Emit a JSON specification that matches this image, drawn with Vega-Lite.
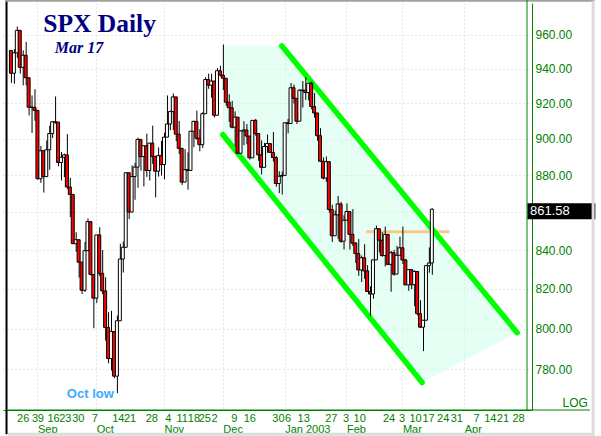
{
"$schema": "https://vega.github.io/schema/vega-lite/v6.json",
"width": 529, "height": 407,
"autosize": {"type": "none"},
"padding": {"left": 3, "top": 3, "right": 69, "bottom": 26},
"background": "white",
"config": {"view": {"stroke": null}},
"datasets": {
"candles": [
{"i":-4,"o":950.70,"h":950.70,"l":931.86,"c":937.43},
{"i":-3,"o":937.43,"h":951.59,"l":931.32,"c":949.36},
{"i":-2,"o":949.36,"h":965.00,"l":946.43,"c":962.70},
{"i":-1,"o":962.70,"h":962.70,"l":937.17,"c":940.86},
{"i":0,"o":940.86,"h":950.80,"l":930.42,"c":947.95},
{"i":1,"o":947.95,"h":955.82,"l":930.36,"c":934.82},
{"i":2,"o":934.82,"h":934.82,"l":913.21,"c":917.87},
{"i":3,"o":917.87,"h":924.59,"l":903.33,"c":917.80},
{"i":4,"o":917.80,"h":928.15,"l":910.17,"c":916.07},
{"i":5,"o":916.07,"h":916.07,"l":877.51,"c":878.02},
{"i":6,"o":878.02,"h":896.10,"l":875.73,"c":893.40},
{"i":7,"o":893.40,"h":893.40,"l":870.50,"c":879.15},
{"i":8,"o":879.15,"h":899.07,"l":879.15,"c":893.92},
{"i":9,"o":893.92,"h":907.34,"l":882.92,"c":902.96},
{"i":10,"o":902.96,"h":909.89,"l":900.50,"c":909.58},
{"i":11,"o":909.58,"h":924.02,"l":908.47,"c":909.45},
{"i":12,"o":909.45,"h":909.45,"l":884.84,"c":886.91},
{"i":13,"o":886.91,"h":892.75,"l":877.05,"c":889.81},
{"i":14,"o":889.81,"h":891.84,"l":878.91,"c":891.10},
{"i":15,"o":891.10,"h":902.68,"l":872.38,"c":873.52},
{"i":16,"o":873.52,"h":878.45,"l":857.39,"c":869.46},
{"i":17,"o":869.46,"h":869.46,"l":843.09,"c":843.32},
{"i":18,"o":843.32,"h":849.32,"l":839.09,"c":845.39},
{"i":19,"o":845.39,"h":845.39,"l":825.76,"c":833.70},
{"i":20,"o":833.70,"h":833.70,"l":817.38,"c":819.29},
{"i":21,"o":819.29,"h":844.22,"l":818.46,"c":839.66},
{"i":22,"o":839.66,"h":856.60,"l":839.66,"c":854.95},
{"i":23,"o":854.95,"h":854.95,"l":826.84,"c":827.37},
{"i":24,"o":827.37,"h":827.37,"l":800.20,"c":815.28},
{"i":25,"o":815.28,"h":847.93,"l":812.82,"c":847.91},
{"i":26,"o":847.91,"h":851.93,"l":826.50,"c":827.91},
{"i":27,"o":827.91,"h":840.02,"l":817.25,"c":818.95},
{"i":28,"o":818.95,"h":825.90,"l":794.10,"c":800.58},
{"i":29,"o":800.58,"h":808.21,"l":782.96,"c":785.28},
{"i":30,"o":785.28,"h":808.86,"l":779.50,"c":798.55},
{"i":31,"o":798.55,"h":798.55,"l":775.80,"c":776.76},
{"i":32,"o":776.76,"h":806.51,"l":768.63,"c":803.92},
{"i":33,"o":803.92,"h":843.27,"l":803.92,"c":835.32},
{"i":34,"o":835.32,"h":844.39,"l":828.37,"c":841.44},
{"i":35,"o":841.44,"h":881.27,"l":841.44,"c":881.27},
{"i":36,"o":881.27,"h":881.27,"l":856.28,"c":860.02},
{"i":37,"o":860.02,"h":885.35,"l":860.02,"c":879.20},
{"i":38,"o":879.20,"h":886.68,"l":866.58,"c":884.39},
{"i":39,"o":884.39,"h":900.69,"l":873.06,"c":899.72},
{"i":40,"o":899.72,"h":899.72,"l":882.40,"c":890.16},
{"i":41,"o":890.16,"h":896.14,"l":873.82,"c":896.14},
{"i":42,"o":896.14,"h":902.94,"l":879.00,"c":882.50},
{"i":43,"o":882.50,"h":897.71,"l":877.03,"c":897.65},
{"i":44,"o":897.65,"h":907.44,"l":886.15,"c":890.23},
{"i":45,"o":890.23,"h":890.64,"l":867.91,"c":882.15},
{"i":46,"o":882.15,"h":895.28,"l":879.19,"c":890.71},
{"i":47,"o":890.71,"h":898.83,"l":879.75,"c":885.76},
{"i":48,"o":885.76,"h":903.42,"l":877.71,"c":900.96},
{"i":49,"o":900.96,"h":924.58,"l":900.96,"c":908.35},
{"i":50,"o":908.35,"h":915.83,"l":904.91,"c":915.39},
{"i":51,"o":915.39,"h":925.66,"l":905.00,"c":923.76},
{"i":52,"o":923.76,"h":923.76,"l":898.68,"c":902.65},
{"i":53,"o":902.65,"h":910.11,"l":891.62,"c":894.74},
{"i":54,"o":894.74,"h":894.74,"l":874.63,"c":876.19},
{"i":55,"o":876.19,"h":894.30,"l":876.19,"c":882.95},
{"i":56,"o":882.95,"h":892.51,"l":872.05,"c":882.53},
{"i":57,"o":882.53,"h":904.27,"l":882.53,"c":904.27},
{"i":58,"o":904.27,"h":910.21,"l":895.35,"c":909.83},
{"i":59,"o":909.83,"h":915.91,"l":899.48,"c":900.36},
{"i":60,"o":900.36,"h":905.45,"l":893.09,"c":896.74},
{"i":61,"o":896.74,"h":915.01,"l":894.93,"c":914.15},
{"i":62,"o":914.15,"h":935.13,"l":914.15,"c":933.76},
{"i":63,"o":933.76,"h":937.15,"l":928.41,"c":930.55},
{"i":64,"o":930.55,"h":937.15,"l":923.31,"c":932.87},
{"i":65,"o":932.87,"h":932.87,"l":912.10,"c":913.31},
{"i":66,"o":913.31,"h":940.41,"l":913.31,"c":938.87},
{"i":67,"o":938.87,"h":941.82,"l":935.58,"c":936.31},
{"i":68,"o":936.31,"h":954.28,"l":927.72,"c":934.53},
{"i":69,"o":934.53,"h":934.53,"l":918.73,"c":920.75},
{"i":70,"o":920.75,"h":925.25,"l":909.51,"c":917.58},
{"i":71,"o":917.58,"h":921.49,"l":905.90,"c":906.55},
{"i":72,"o":906.55,"h":915.48,"l":895.96,"c":912.23},
{"i":73,"o":912.23,"h":912.23,"l":891.97,"c":892.00},
{"i":74,"o":892.00,"h":904.95,"l":892.00,"c":904.45},
{"i":75,"o":904.45,"h":909.94,"l":896.48,"c":904.96},
{"i":76,"o":904.96,"h":908.37,"l":897.00,"c":901.58},
{"i":77,"o":901.58,"h":901.58,"l":888.48,"c":889.48},
{"i":78,"o":889.48,"h":910.42,"l":889.48,"c":910.40},
{"i":79,"o":910.40,"h":911.22,"l":901.74,"c":902.99},
{"i":80,"o":902.99,"h":902.99,"l":887.82,"c":891.12},
{"i":81,"o":891.12,"h":899.19,"l":880.32,"c":884.25},
{"i":82,"o":884.25,"h":897.79,"l":884.25,"c":895.76},
{"i":83,"o":895.76,"h":902.43,"l":892.26,"c":897.38},
{"i":84,"o":897.38,"h":897.38,"l":892.29,"c":892.47},
{"i":85,"o":892.47,"h":903.89,"l":887.48,"c":889.66},
{"i":86,"o":889.66,"h":890.46,"l":873.62,"c":875.40},
{"i":87,"o":875.40,"h":882.10,"l":870.23,"c":879.39},
{"i":88,"o":879.39,"h":881.93,"l":869.45,"c":879.82},
{"i":89,"o":879.82,"h":909.03,"l":879.82,"c":909.03},
{"i":90,"o":909.03,"h":911.25,"l":903.07,"c":908.59},
{"i":91,"o":908.59,"h":931.77,"l":908.59,"c":929.01},
{"i":92,"o":929.01,"h":930.81,"l":919.93,"c":922.93},
{"i":93,"o":922.93,"h":922.93,"l":908.32,"c":909.93},
{"i":94,"o":909.93,"h":928.31,"l":909.93,"c":927.57},
{"i":95,"o":927.57,"h":932.89,"l":917.66,"c":927.57},
{"i":96,"o":927.57,"h":935.05,"l":922.05,"c":926.26},
{"i":97,"o":926.26,"h":931.66,"l":921.72,"c":931.66},
{"i":98,"o":931.66,"h":932.59,"l":916.70,"c":918.22},
{"i":99,"o":918.22,"h":926.03,"l":911.98,"c":914.60},
{"i":100,"o":914.60,"h":914.60,"l":899.02,"c":901.78},
{"i":101,"o":901.78,"h":906.00,"l":887.62,"c":887.62},
{"i":102,"o":887.62,"h":889.74,"l":877.64,"c":878.36},
{"i":103,"o":878.36,"h":890.25,"l":876.32,"c":887.34},
{"i":104,"o":887.34,"h":887.34,"l":859.71,"c":861.40},
{"i":105,"o":861.40,"h":863.95,"l":844.25,"c":847.48},
{"i":106,"o":847.48,"h":860.76,"l":847.48,"c":858.54},
{"i":107,"o":858.54,"h":868.72,"l":845.86,"c":864.36},
{"i":108,"o":864.36,"h":865.48,"l":843.74,"c":844.61},
{"i":109,"o":844.61,"h":858.33,"l":840.34,"c":855.70},
{"i":110,"o":855.70,"h":864.64,"l":855.70,"c":860.32},
{"i":111,"o":860.32,"h":860.32,"l":840.19,"c":848.20},
{"i":112,"o":848.20,"h":861.63,"l":842.11,"c":843.59},
{"i":113,"o":843.59,"h":844.23,"l":833.25,"c":838.15},
{"i":114,"o":838.15,"h":845.73,"l":826.70,"c":829.69},
{"i":115,"o":829.69,"h":837.16,"l":823.53,"c":835.97},
{"i":116,"o":835.97,"h":843.02,"l":825.09,"c":829.20},
{"i":117,"o":829.20,"h":832.12,"l":818.49,"c":818.68},
{"i":118,"o":818.68,"h":821.25,"l":806.29,"c":817.37},
{"i":119,"o":817.37,"h":834.89,"l":815.03,"c":834.89},
{"i":120,"o":834.89,"h":852.87,"l":834.89,"c":851.17},
{"i":121,"o":851.17,"h":851.17,"l":838.79,"c":845.13},
{"i":122,"o":845.13,"h":849.37,"l":836.56,"c":837.10},
{"i":123,"o":837.10,"h":852.28,"l":831.48,"c":848.17},
{"i":124,"o":848.17,"h":848.17,"l":832.16,"c":832.58},
{"i":125,"o":832.58,"h":839.55,"l":818.54,"c":838.57},
{"i":126,"o":838.57,"h":840.10,"l":826.68,"c":827.55},
{"i":127,"o":827.55,"h":842.19,"l":827.55,"c":837.28},
{"i":128,"o":837.28,"h":847.00,"l":837.28,"c":841.15},
{"i":129,"o":841.15,"h":852.34,"l":832.74,"c":834.81},
{"i":130,"o":834.81,"h":835.43,"l":821.96,"c":821.99},
{"i":131,"o":821.99,"h":829.87,"l":819.00,"c":829.85},
{"i":132,"o":829.85,"h":829.85,"l":819.85,"c":822.10},
{"i":133,"o":822.10,"h":829.55,"l":811.23,"c":828.89},
{"i":134,"o":828.89,"h":828.89,"l":806.57,"c":807.48},
{"i":135,"o":807.48,"h":814.25,"l":800.30,"c":800.73},
{"i":136,"o":800.73,"h":804.19,"l":788.90,"c":804.19},
{"i":137,"o":804.19,"h":832.02,"l":804.19,"c":831.90},
{"i":138,"o":831.90,"h":841.39,"l":828.26,"c":833.27},
{"i":139,"o":833.27,"h":862.00,"l":827.17,"c":861.58}
],
"band": [
{"i":68,"top":953.5,"bot":902.3},
{"i":88,"top":953.5,"bot":862.2},
{"i":135.7,"top":857.6,"bot":773.7},
{"i":168,"top":798.0,"bot":798.0}
],
"channel": [
{"line":"upper","i":88,"p":953.5},
{"line":"upper","i":168,"p":798.0},
{"line":"lower","i":68,"p":902.3},
{"line":"lower","i":135.7,"p":773.7}
],
"level": [{"i":116.7,"i2":145,"p":849.6}],
"last": [{"p":861.58}]
},
"resolve": {"axis": {"x": "independent", "y": "independent"}},
"layer": [
{
"data": {"name": "band"},
"mark": {"type": "area", "fill": "#ccffeb", "opacity": 0.5, "interpolate": "linear"},
"encoding": {
"x": {"field": "i", "type": "quantitative", "scale": {"domain": [-5, 171.3333], "nice": false, "zero": false},
"axis": {"orient": "bottom", "title": null, "values": [5,25,48,68,89,110,129,150],
"labelExpr": "['Sep','Oct','Nov','Dec','Jan 2003','Feb','Mar','Apr'][indexof([5,25,48,68,89,110,129,150], datum.value)]",
"ticks": false, "domain": false, "grid": true, "gridColor": "#cfcfcf", "gridDash": [1,3], "offset": 11,
"labelAlign": "left", "labelDx": 1, "labelBaseline": "top", "labelPadding": 2, "labelColor": "#008000", "labelFont": "Liberation Sans", "labelFontSize": 11, "labelOverlap": false, "labelFlush": false, "labelBound": false}},
"y": {"field": "top", "type": "quantitative", "scale": {"type": "log", "domain": [760.6, 979.2], "nice": false},
"axis": {"orient": "right", "title": null, "values": [780,800,820,840,860,880,900,920,940,960], "format": ".2f",
"labelExpr": "datum.value == 860 ? '' : datum.label",
"ticks": false, "domainColor": "#008000", "labelColor": "#008000", "labelFont": "Liberation Sans", "labelFontSize": 12, "labelPadding": 3,
"grid": true, "gridColor": "#cfcfcf", "gridDash": [1,3], "labelOverlap": false, "labelFlush": false, "labelBound": false}},
"y2": {"field": "bot"}
}
},
{
"data": {"name": "level"},
"mark": {"type": "rule", "color": "#f9c98c", "strokeWidth": 3},
"encoding": {
"x": {"field": "i", "type": "quantitative", "scale": {"domain": [-5, 171.3333], "nice": false, "zero": false}, "axis": null},
"x2": {"field": "i2"},
"y": {"field": "p", "type": "quantitative", "scale": {"type": "log", "domain": [760.6, 979.2], "nice": false}, "axis": null}
}
},
{
"data": {"name": "channel"},
"mark": {"type": "line", "color": "#00ff00", "strokeWidth": 5.5, "strokeCap": "round"},
"encoding": {
"x": {"field": "i", "type": "quantitative", "scale": {"domain": [-5, 171.3333], "nice": false, "zero": false}, "axis": null},
"y": {"field": "p", "type": "quantitative", "scale": {"type": "log", "domain": [760.6, 979.2], "nice": false}, "axis": null},
"detail": {"field": "line"}
}
},
{
"data": {"name": "candles"},
"mark": {"type": "rule", "color": "black", "strokeWidth": 1, "xOffset": 0.5},
"encoding": {
"x": {"field": "i", "type": "quantitative", "scale": {"domain": [-5, 171.3333], "nice": false, "zero": false},
"axis": {"orient": "bottom", "title": null,
"values": [0,4,6,10.3,14.3,18.7,24.3,32.3,36.3,43.7,49.3,54,58,61.7,65,71.7,77,86.7,90,95.3,104.7,109.7,114.3,124.3,128.7,133.3,137.7,142.7,147.3,154,158.7,163,168.3],
"labelExpr": "['26','3','9','16','23','30','7','14','21','28','4','11','18','25','2','9','16','30','6','13','27','3','10','24','3','10','17','24','31','7','14','21','28'][indexof([0,4,6,10.3,14.3,18.7,24.3,32.3,36.3,43.7,49.3,54,58,61.7,65,71.7,77,86.7,90,95.3,104.7,109.7,114.3,124.3,128.7,133.3,137.7,142.7,147.3,154,158.7,163,168.3], datum.value)]",
"ticks": false, "grid": false, "domain": true, "domainColor": "#008000", "labelColor": "#008000", "labelFont": "Liberation Sans", "labelFontSize": 11,
"labelPadding": 2, "labelBaseline": "top", "labelAlign": "center", "labelOverlap": false, "labelFlush": false, "labelBound": false}},
"y": {"field": "l", "type": "quantitative", "scale": {"type": "log", "domain": [760.6, 979.2], "nice": false}, "axis": null},
"y2": {"field": "h"}
}
},
{
"data": {"name": "candles"},
"mark": {"type": "bar", "width": 3, "stroke": "black", "strokeWidth": 1},
"encoding": {
"x": {"field": "i", "type": "quantitative", "scale": {"domain": [-5, 171.3333], "nice": false, "zero": false}, "axis": null},
"y": {"field": "o", "type": "quantitative", "scale": {"type": "log", "domain": [760.6, 979.2], "nice": false}, "axis": null},
"y2": {"field": "c"},
"fill": {"condition": {"test": "datum.c < datum.o", "value": "#ff0000"}, "value": "#ffffff"}
}
},
{
"data": {"values": [{"t": "SPX Daily"}]},
"mark": {"type": "text", "font": "Liberation Serif", "fontWeight": "bold", "fontSize": 25.5, "color": "#000080", "align": "left", "baseline": "alphabetic"},
"encoding": {
"x": {"datum": 7, "type": "quantitative", "scale": {"domain": [-5, 171.3333], "nice": false, "zero": false}, "axis": null},
"y": {"datum": 962.0, "type": "quantitative", "scale": {"type": "log", "domain": [760.6, 979.2], "nice": false}, "axis": null},
"text": {"field": "t"}
}
},
{
"data": {"values": [{"t": "Mar 17"}]},
"mark": {"type": "text", "font": "Liberation Serif", "fontWeight": "bold", "fontStyle": "italic", "fontSize": 16, "color": "#000080", "align": "left", "baseline": "alphabetic"},
"encoding": {
"x": {"datum": 10.9, "type": "quantitative", "scale": {"domain": [-5, 171.3333], "nice": false, "zero": false}, "axis": null},
"y": {"datum": 949.5, "type": "quantitative", "scale": {"type": "log", "domain": [760.6, 979.2], "nice": false}, "axis": null},
"text": {"field": "t"}
}
},
{
"data": {"values": [{"t": "Oct low"}]},
"mark": {"type": "text", "font": "Liberation Sans", "fontWeight": "bold", "fontSize": 13, "color": "#40aaff", "align": "left", "baseline": "alphabetic"},
"encoding": {
"x": {"datum": 15, "type": "quantitative", "scale": {"domain": [-5, 171.3333], "nice": false, "zero": false}, "axis": null},
"y": {"datum": 766.2, "type": "quantitative", "scale": {"type": "log", "domain": [760.6, 979.2], "nice": false}, "axis": null},
"text": {"field": "t"}
}
},
{
"data": {"values": [{"t": "LOG"}]},
"mark": {"type": "text", "font": "Liberation Sans", "fontSize": 12, "color": "#008000", "align": "right", "baseline": "alphabetic"},
"encoding": {
"x": {"datum": 192, "type": "quantitative", "scale": {"domain": [-5, 171.3333], "nice": false, "zero": false}, "axis": null},
"y": {"datum": 761.9, "type": "quantitative", "scale": {"type": "log", "domain": [760.6, 979.2], "nice": false}, "axis": null},
"text": {"field": "t"}
}
},
{
"data": {"name": "last"},
"mark": {"type": "tick", "orient": "horizontal", "color": "black", "size": 68, "thickness": 16, "opacity": 1, "yOffset": 2},
"encoding": {
"x": {"datum": 183, "type": "quantitative", "scale": {"domain": [-5, 171.3333], "nice": false, "zero": false}, "axis": null},
"y": {"field": "p", "type": "quantitative", "scale": {"type": "log", "domain": [760.6, 979.2], "nice": false}, "axis": null}
}
},
{
"data": {"name": "last"},
"mark": {"type": "text", "font": "Liberation Sans", "fontSize": 13, "color": "white", "align": "left", "baseline": "middle", "yOffset": 2},
"encoding": {
"x": {"datum": 172.33, "type": "quantitative", "scale": {"domain": [-5, 171.3333], "nice": false, "zero": false}, "axis": null},
"y": {"field": "p", "type": "quantitative", "scale": {"type": "log", "domain": [760.6, 979.2], "nice": false}, "axis": null},
"text": {"field": "p", "format": ".2f"}
}
},
{
"data": {"values": [{"k": "xaxis"}]},
"mark": {"type": "rule", "color": "#008000", "strokeWidth": 1},
"encoding": {
"x": {"datum": -5, "type": "quantitative", "scale": {"domain": [-5, 171.3333], "nice": false, "zero": false}, "axis": null},
"x2": {"datum": 192.7},
"y": {"datum": 760.6, "type": "quantitative", "scale": {"type": "log", "domain": [760.6, 979.2], "nice": false}, "axis": null}
}
},
{
"data": {"values": [{"k": "left"}]},
"mark": {"type": "rule", "color": "black", "strokeWidth": 2},
"encoding": {
"x": {"datum": -5.5, "type": "quantitative", "scale": {"domain": [-5, 171.3333], "nice": false, "zero": false}, "axis": null},
"y": {"datum": 980.5, "type": "quantitative", "scale": {"type": "log", "domain": [760.6, 979.2], "nice": false}, "axis": null},
"y2": {"datum": 749.2}
}
},
{
"data": {"values": [{"k": "top"}]},
"mark": {"type": "rule", "color": "#a0a0a0", "strokeWidth": 2},
"encoding": {
"x": {"datum": -6, "type": "quantitative", "scale": {"domain": [-5, 171.3333], "nice": false, "zero": false}, "axis": null},
"x2": {"datum": 194.3},
"y": {"datum": 980.5, "type": "quantitative", "scale": {"type": "log", "domain": [760.6, 979.2], "nice": false}, "axis": null}
}
},
{
"data": {"values": [{"k": "right"}]},
"mark": {"type": "rule", "color": "#dcdcdc", "strokeWidth": 3},
"encoding": {
"x": {"datum": 193.8, "type": "quantitative", "scale": {"domain": [-5, 171.3333], "nice": false, "zero": false}, "axis": null},
"y": {"datum": 980.5, "type": "quantitative", "scale": {"type": "log", "domain": [760.6, 979.2], "nice": false}, "axis": null},
"y2": {"datum": 749.2}
}
},
{
"data": {"values": [{"k": "bottom"}]},
"mark": {"type": "rule", "color": "#dcdcdc", "strokeWidth": 3},
"encoding": {
"x": {"datum": -5, "type": "quantitative", "scale": {"domain": [-5, 171.3333], "nice": false, "zero": false}, "axis": null},
"x2": {"datum": 194.3},
"y": {"datum": 749.2, "type": "quantitative", "scale": {"type": "log", "domain": [760.6, 979.2], "nice": false}, "axis": null}
}
},
{
"data": {"values": [{"k": "yaxis"}]},
"mark": {"type": "rule", "color": "#008000", "strokeWidth": 1},
"encoding": {
"x": {"datum": 171.3333, "type": "quantitative", "scale": {"domain": [-5, 171.3333], "nice": false, "zero": false}, "axis": null},
"y": {"datum": 981.5, "type": "quantitative", "scale": {"type": "log", "domain": [760.6, 979.2], "nice": false}, "axis": null},
"y2": {"datum": 760.6}
}
}
]
}
